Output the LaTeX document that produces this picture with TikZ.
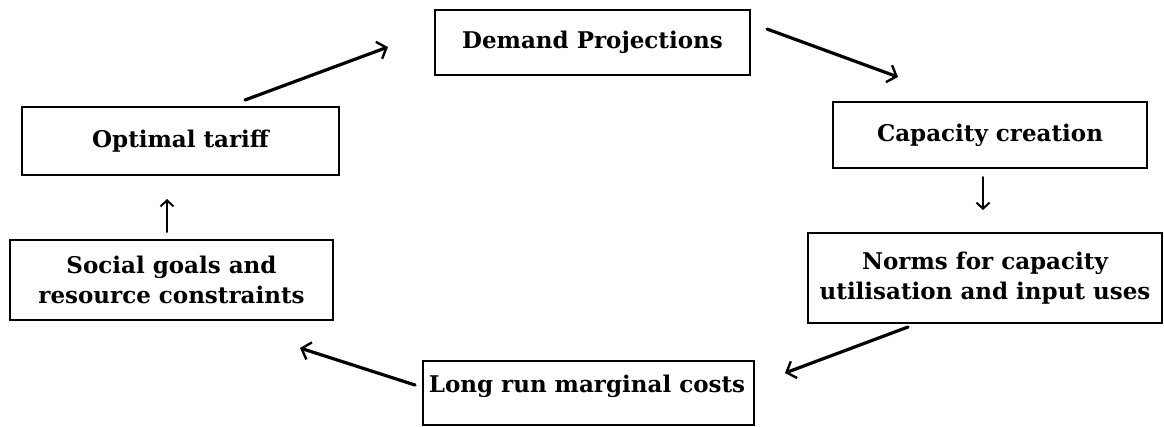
\documentclass[tikz,border=0pt]{standalone}
\usepackage{fontspec}
\setmainfont{DejaVu Serif}
\usetikzlibrary{arrows.meta}
\begin{document}
\begin{tikzpicture}[x=1pt,y=-1pt,
  box/.style={draw,line width=1.6pt,inner sep=0pt,align=center,
    font=\bfseries\fontsize{23}{30}\selectfont},
  lbl/.style={inner sep=0pt,align=center,font=\bfseries\fontsize{23}{30}\selectfont},
  arr/.style={line width=3.2pt,line cap=round,-{Straight Barb[length=8pt,width=18pt,line width=2.4pt]}},
  sarr/.style={line width=2pt,line cap=round,-{Straight Barb[length=6pt,width=13pt,line width=2pt]}}]
\useasboundingbox (0,0) rectangle (1164,426);
\fill[white] (0,0) rectangle (1164,426);

\node[box,minimum width=315pt,minimum height=65pt] (dem) at (592.5,42.5) {Demand Projections};
\node[box,minimum width=314pt,minimum height=66pt] (cap) at (990,135) {Capacity creation};
\node[box,minimum width=354pt,minimum height=90pt] (nor) at (985,278) {Norms for capacity\\utilisation and input uses};
\node[box,minimum width=331pt,minimum height=64pt] (lr) at (588.5,393) {};
\node[lbl] (lrt) at (587,386) {Long run marginal costs};
\node[box,minimum width=323pt,minimum height=80pt] (soc) at (171.5,280) {Social goals and\\resource constraints};
\node[box,minimum width=317pt,minimum height=68pt] (opt) at (180.5,141) {Optimal tariff};

\coordinate (a1s) at (245,100); \coordinate (a1e) at (388,47);
\coordinate (a2s) at (767,29);  \coordinate (a2e) at (898,77);
\coordinate (a3s) at (983,177); \coordinate (a3e) at (983,210);
\coordinate (a4s) at (908,327); \coordinate (a4e) at (785,373);
\coordinate (a5s) at (415,385); \coordinate (a5e) at (300,348);
\coordinate (a6s) at (167,232); \coordinate (a6e) at (167,199);

\draw[arr] (a1s) -- (a1e);
\draw[arr] (a2s) -- (a2e);
\draw[sarr] (a3s) -- (a3e);
\draw[arr] (a4s) -- (a4e);
\draw[arr] (a5s) -- (a5e);
\draw[sarr] (a6s) -- (a6e);
\end{tikzpicture}
\end{document}
